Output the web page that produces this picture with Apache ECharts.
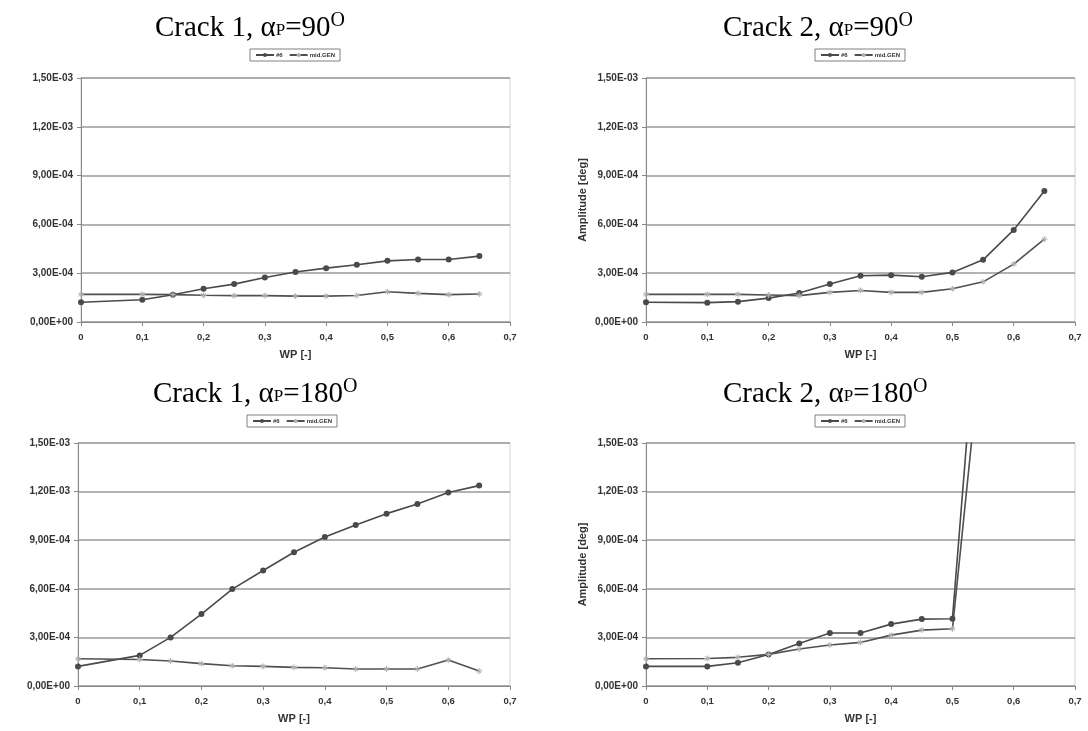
<!DOCTYPE html>
<html>
<head>
<meta charset="utf-8">
<script src="https://cdn.jsdelivr.net/npm/echarts@6/dist/echarts.min.js"></script>
<style>html,body{margin:0;padding:0;background:#fff}#c{width:1088px;height:731px}</style>
</head>
<body>
<div id="c"></div>
<script>
// ---- data ----
var xValues = [0, 0.1, 0.15, 0.2, 0.25, 0.3, 0.35, 0.4, 0.45, 0.5, 0.55, 0.6, 0.65];
var xValuesC2_180 = [0, 0.1, 0.15, 0.2, 0.25, 0.3, 0.35, 0.4, 0.45, 0.5, 0.55];
var xTickLabels = ['0', '0,1', '0,2', '0,3', '0,4', '0,5', '0,6', '0,7'];
var yTickLabels = ['0,00E+00', '3,00E-04', '6,00E-04', '9,00E-04', '1,20E-03', '1,50E-03'];
var seriesNames = ['#6', 'mid.GEN'];

var crack1_90_s6 = [1.21e-4, 1.37e-4, 1.68e-4, 2.04e-4, 2.33e-4, 2.74e-4, 3.07e-4, 3.31e-4, 3.52e-4, 3.76e-4, 3.84e-4, 3.84e-4, 4.05e-4];
var crack1_90_gen = [1.70e-4, 1.70e-4, 1.68e-4, 1.64e-4, 1.62e-4, 1.62e-4, 1.59e-4, 1.59e-4, 1.63e-4, 1.86e-4, 1.76e-4, 1.68e-4, 1.72e-4];
var crack2_90_s6 = [1.21e-4, 1.19e-4, 1.25e-4, 1.47e-4, 1.78e-4, 2.33e-4, 2.84e-4, 2.88e-4, 2.78e-4, 3.05e-4, 3.82e-4, 5.66e-4, 8.05e-4];
var crack2_90_gen = [1.70e-4, 1.70e-4, 1.70e-4, 1.66e-4, 1.62e-4, 1.82e-4, 1.94e-4, 1.82e-4, 1.82e-4, 2.04e-4, 2.47e-4, 3.56e-4, 5.09e-4];
var crack1_180_s6 = [1.21e-4, 1.89e-4, 3.00e-4, 4.44e-4, 5.98e-4, 7.13e-4, 8.26e-4, 9.20e-4, 9.94e-4, 1.064e-3, 1.124e-3, 1.194e-3, 1.237e-3];
var crack1_180_gen = [1.68e-4, 1.64e-4, 1.54e-4, 1.38e-4, 1.25e-4, 1.21e-4, 1.15e-4, 1.13e-4, 1.05e-4, 1.05e-4, 1.05e-4, 1.60e-4, 0.92e-4];
var crack2_180_s6 = [1.21e-4, 1.21e-4, 1.44e-4, 1.95e-4, 2.63e-4, 3.27e-4, 3.27e-4, 3.82e-4, 4.13e-4, 4.15e-4, 2.77e-3];
var crack2_180_gen = [1.68e-4, 1.70e-4, 1.77e-4, 1.95e-4, 2.28e-4, 2.53e-4, 2.69e-4, 3.14e-4, 3.45e-4, 3.53e-4, 2.20e-3];

var titles = [
  {c: '1', a: '90'}, {c: '2', a: '90'}, {c: '1', a: '180'}, {c: '2', a: '180'}
];

// ---- layout ----
var grids = [
  {left: 81, top: 78, width: 429, height: 244},
  {left: 646, top: 78, width: 429, height: 244},
  {left: 78, top: 443, width: 432, height: 243},
  {left: 646, top: 443, width: 429, height: 243}
];
var titlePos = [[150, 6], [718, 6], [148, 372], [718, 372]];
var legendPos = [[250, 49], [815, 49], [247, 415], [815, 415]];
var showYName = [false, true, false, true];
var panelData = [
  [xValues, crack1_90_s6, crack1_90_gen],
  [xValues, crack2_90_s6, crack2_90_gen],
  [xValues, crack1_180_s6, crack1_180_gen],
  [xValuesC2_180, crack2_180_s6, crack2_180_gen]
];

function pairs(xs, ys) { return ys.map(function (v, i) { return [xs[i], v]; }); }

var labelFont = {fontFamily: 'Liberation Sans, Arial', fontWeight: 'bold', color: '#333'};
var starPath = 'path://M0,5L10,5M5,0L5,10M1.5,1.5L8.5,8.5M8.5,1.5L1.5,8.5';

var option = {
  backgroundColor: '#fff',
  animation: false,
  title: [], legend: [], grid: [], xAxis: [], yAxis: [], series: []
};

grids.forEach(function (g, i) {
  option.grid.push({left: g.left, top: g.top, width: g.width, height: g.height,
    show: true, borderColor: '#d0d0d0', borderWidth: 1, backgroundColor: 'transparent'});
  option.title.push({
    left: titlePos[i][0], top: titlePos[i][1],
    text: '{a|Crack ' + titles[i].c + ', α}{s|P}{a|=' + titles[i].a + '}{o|O}',
    textStyle: {
      fontWeight: 'normal',
      rich: {
        a: {fontFamily: 'Liberation Serif', fontWeight: 'normal', fontSize: 29, color: '#000', lineHeight: 32, verticalAlign: 'bottom'},
        s: {fontFamily: 'Liberation Serif', fontWeight: 'normal', fontSize: 17, color: '#000', lineHeight: 18, verticalAlign: 'bottom', padding: [0, 0, 4, 0]},
        o: {fontFamily: 'Liberation Serif', fontWeight: 'normal', fontSize: 20, color: '#000', lineHeight: 20, verticalAlign: 'top'}
      }
    }
  });
  option.legend.push({
    left: legendPos[i][0], top: legendPos[i][1],
    data: seriesNames,
    borderColor: '#808080', borderWidth: 1, padding: [3, 5], itemGap: 6,
    itemWidth: 18, itemHeight: 5,
    textStyle: {fontSize: 6, fontFamily: 'Liberation Sans', fontWeight: 'bold', color: '#333', padding: [0, 0, 0, -3]},
    selectedMode: false
  });
  option.xAxis.push({
    gridIndex: i, type: 'value', min: 0, max: 0.7, interval: 0.1,
    name: 'WP [-]', nameLocation: 'middle', nameGap: 27,
    nameTextStyle: {fontFamily: 'Liberation Sans', fontWeight: 'bold', fontSize: 11, color: '#333'},
    axisLine: {show: true, lineStyle: {color: '#888', width: 1}},
    axisTick: {show: true, length: 4, lineStyle: {color: '#888'}},
    splitLine: {show: false},
    axisLabel: Object.assign({fontSize: 9.5, margin: 10, formatter: function (v) {
      return xTickLabels[Math.round(v / 0.1)];
    }}, labelFont)
  });
  option.yAxis.push({
    gridIndex: i, type: 'value', min: 0, max: 1.5e-3, interval: 3e-4,
    name: showYName[i] ? 'Amplitude [deg]' : '', nameLocation: 'middle', nameGap: 58, nameRotate: 90,
    nameTextStyle: {fontFamily: 'Liberation Sans', fontWeight: 'bold', fontSize: 11, color: '#333'},
    axisLine: {show: true, lineStyle: {color: '#888', width: 1}},
    axisTick: {show: true, length: 4, lineStyle: {color: '#888'}},
    splitLine: {show: true, lineStyle: {color: '#9a9a9a', width: 1.5}},
    axisLabel: Object.assign({fontSize: 10, margin: 8, formatter: function (v) {
      return yTickLabels[Math.round(v / 3e-4)];
    }}, labelFont)
  });
  var d = panelData[i];
  option.series.push({
    name: seriesNames[0], type: 'line', xAxisIndex: i, yAxisIndex: i,
    data: pairs(d[0], d[1]), clip: true,
    symbol: 'circle', symbolSize: 6,
    lineStyle: {color: '#4a4a4a', width: 1.6},
    itemStyle: {color: '#4a4a4a'}
  });
  option.series.push({
    name: seriesNames[1], type: 'line', xAxisIndex: i, yAxisIndex: i,
    data: pairs(d[0], d[2]), clip: true,
    symbol: starPath, symbolSize: 6,
    lineStyle: {color: '#505050', width: 1.6},
    itemStyle: {color: 'transparent', borderColor: '#b0b0b0', borderWidth: 1}
  });
});

var chart = echarts.init(document.getElementById('c'), null, {renderer: 'canvas'});
chart.setOption(option);
</script>
</body>
</html>
